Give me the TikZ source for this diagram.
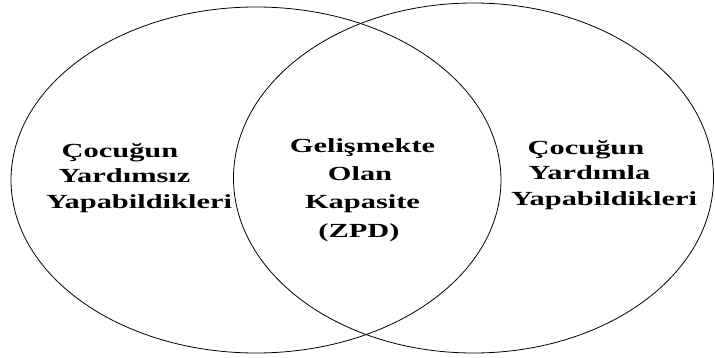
\documentclass[tikz,border=0pt]{standalone}
\usepackage{fontspec}
\setmainfont{Liberation Serif}
\begin{document}
\begin{tikzpicture}[x=1pt,y=-1pt,
  ring/.style={draw=black,line width=0.8pt},
  lbl/.style={font=\fontsize{20}{28}\selectfont\bfseries,anchor=base,xscale=1.52,transform shape,inner sep=0pt}]
\useasboundingbox (0,0) rectangle (715,358);
\draw[ring] (256,180) ellipse [x radius=245, y radius=173];
\draw[ring] (473.5,178) ellipse [x radius=240, y radius=175];
\node[lbl] (l1) at (120,158) {Çocuğun};
\node[lbl] (l2) at (124.5,183) {Yardımsız};
\node[lbl] (l3) at (139,209) {Yapabildikleri};
\node[lbl] (m1) at (362.5,153) {Gelişmekte};
\node[lbl] (m2) at (360,181) {Olan};
\node[lbl] (m3) at (362.5,209) {Kapasite};
\node[lbl] (m4) at (359,237) {(ZPD)};
\node[lbl] (r1) at (586,155) {Çocuğun};
\node[lbl] (r2) at (589.5,180) {Yardımla};
\node[lbl] (r3) at (604,206) {Yapabildikleri};
\end{tikzpicture}
\end{document}
